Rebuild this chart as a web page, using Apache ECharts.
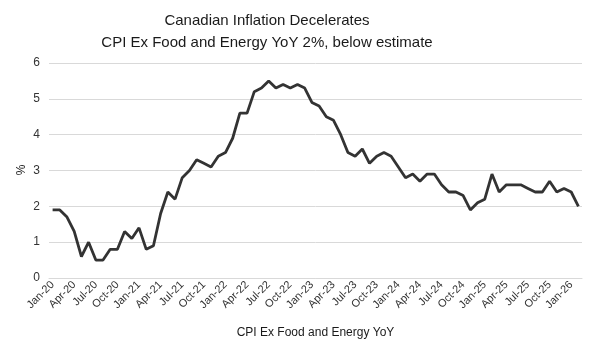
<!DOCTYPE html>
<html>
<head>
<meta charset="utf-8">
<script src="https://cdn.jsdelivr.net/npm/echarts@6/dist/echarts.min.js"></script>
<style>
  html, body { margin: 0; padding: 0; background: #fff; }
  #chart { width: 600px; height: 351px; }
</style>
</head>
<body>
<div id="chart"></div>
<script>
// monthly, Jan-20 .. Feb-26
var months = ['Jan', 'Feb', 'Mar', 'Apr', 'May', 'Jun', 'Jul', 'Aug', 'Sep', 'Oct', 'Nov', 'Dec'];
var years = ['20', '21', '22', '23', '24', '25', '26'];
var categories = [];
years.forEach(function (y) {
  months.forEach(function (m) { categories.push(m + '-' + y); });
});
categories = categories.slice(0, 74);

var coreCpi = [
  1.9, 1.9, 1.7, 1.3, 0.6, 1.0, 0.5, 0.5, 0.8, 0.8, 1.3, 1.1,
  1.4, 0.8, 0.9, 1.8, 2.4, 2.2, 2.8, 3.0, 3.3, 3.2, 3.1, 3.4,
  3.5, 3.9, 4.6, 4.6, 5.2, 5.3, 5.5, 5.3, 5.4, 5.3, 5.4, 5.3,
  4.9, 4.8, 4.5, 4.4, 4.0, 3.5, 3.4, 3.6, 3.2, 3.4, 3.5, 3.4,
  3.1, 2.8, 2.9, 2.7, 2.9, 2.9, 2.6, 2.4, 2.4, 2.3, 1.9, 2.1,
  2.2, 2.9, 2.4, 2.6, 2.6, 2.6, 2.5, 2.4, 2.4, 2.7, 2.4, 2.5,
  2.4, 2.0
];

var myChart = echarts.init(document.getElementById('chart'));

var option = {
  animation: false,
  title: {
    text: 'Canadian Inflation Decelerates\nCPI Ex Food and Energy YoY 2%, below estimate',
    left: 262,
    top: 5,
    textAlign: 'center',
    textStyle: {
      fontFamily: 'Liberation Sans',
      fontSize: 15,
      fontWeight: 'normal',
      color: '#1a1a1a',
      lineHeight: 22
    }
  },
  // y axis title "%"
  graphic: [
    {
      type: 'text',
      x: 22,
      y: 170,
      rotation: Math.PI / 2,
      style: {
        text: '%',
        fontFamily: 'Liberation Sans',
        fontSize: 12,
        fill: '#1a1a1a',
        align: 'center',
        verticalAlign: 'middle'
      }
    }
  ],
  grid: {
    left: 49,
    right: 18,
    top: 63,
    bottom: 73
  },
  xAxis: {
    type: 'category',
    data: categories,
    boundaryGap: true,
    name: 'CPI Ex Food and Energy YoY',
    nameLocation: 'middle',
    nameGap: 49,
    nameTextStyle: { fontFamily: 'Liberation Sans', fontSize: 12, color: '#1a1a1a' },
    axisLine: { lineStyle: { color: '#d9d9d9', width: 1 } },
    axisTick: { interval: 2, length: 4, lineStyle: { color: '#d9d9d9' } },
    axisLabel: {
      interval: 2,
      rotate: 45,
      margin: 5,
      fontFamily: 'Liberation Sans',
      fontSize: 11,
      color: '#333333'
    }
  },
  yAxis: {
    type: 'value',
    min: 0,
    max: 6,
    interval: 1,
    axisLine: { show: false },
    axisTick: { show: false },
    axisLabel: { fontFamily: 'Liberation Sans', fontSize: 12, color: '#333333', margin: 9 },
    splitLine: { lineStyle: { color: '#d9d9d9', width: 1 } }
  },
  series: [
    {
      name: 'CPI Ex Food and Energy YoY',
      type: 'line',
      data: coreCpi,
      symbol: 'none',
      lineStyle: { color: '#333333', width: 2.8 },
      itemStyle: { color: '#333333' }
    }
  ]
};

myChart.setOption(option);
</script>
</body>
</html>
